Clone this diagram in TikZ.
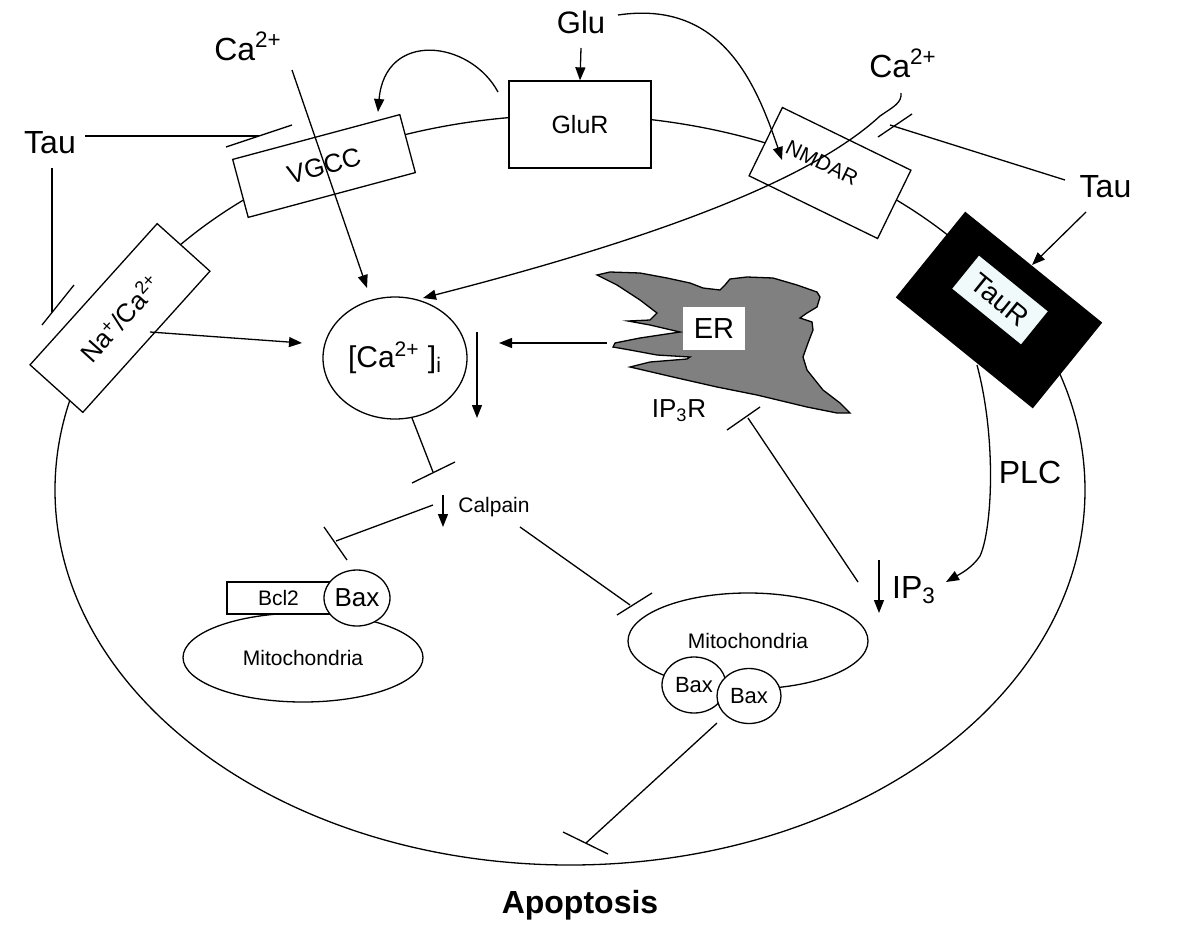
\documentclass[tikz,border=0pt]{standalone}
\usepackage{fontspec}
\setmainfont{Liberation Sans}
\usetikzlibrary{arrows.meta,shapes.geometric}
\definecolor{taurfill}{RGB}{240,250,250}
\definecolor{ergray}{RGB}{128,128,128}
\begin{document}
\begin{tikzpicture}[x=0.5pt,y=-0.5pt,line width=0.65pt,
  arr/.style={-{Triangle[length=6.5pt,width=5pt]}},
  fs/.style={font=\fontsize{#1}{#1}\selectfont},
  box/.style={draw,fill=white,inner sep=0pt},
  oval/.style={ellipse,draw,fill=white,inner sep=0pt},
  lbl/.style={inner sep=0pt,anchor=base}]
\useasboundingbox (0,0) rectangle (1200,932);
% cell membrane
\node[ellipse,draw,inner sep=0pt,minimum width=515pt,minimum height=375pt] (cell) at (570,490) {};
% channels / receptors
\node[box,minimum width=86.5pt,minimum height=30pt,rotate=15,fs=13] (vgcc) at (324,166) {VGCC};
\node[box,minimum width=71pt,minimum height=43.5pt,fs=12.5] (glur) at (580,124.5) {GluR};
\node[box,minimum width=71.5pt,minimum height=38pt,rotate=-26] (nmdar) at (830,173) {};
\node[inner sep=0pt,rotate=-26,fs=10.5] (nmdarlbl) at (822,163) {NMDAR};
\node[box,minimum width=95pt,minimum height=35.5pt,rotate=48,fs=13] (naca) at (120,318) {Na\textsuperscript{+}/Ca\textsuperscript{2+}};
\node[fill=black,draw=black,inner sep=0pt,minimum width=87.5pt,minimum height=54.5pt,rotate=-39] (taur) at (999,310) {};
\node[draw=black,fill=taurfill,inner sep=0pt,minimum width=45pt,minimum height=22pt,rotate=-39,fs=14] (taurin) at (1000,300) {TauR};
% ER
\filldraw[fill=ergray,draw=black] (597,275) -- (610,272) -- (640,273) -- (667,278) -- (690,283) -- (703,288) -- (720,290) -- (725,285) -- (730,279) -- (747,277) -- (773,278) -- (797,285) -- (817,292) -- (820,297) -- (817,307) -- (807,313) -- (800,318) -- (812,322) -- (813,330) -- (808,343) -- (803,357) -- (807,370) -- (823,390) -- (840,403) -- (850,413) -- (837,413) -- (807,407) -- (757,395) -- (717,387) -- (673,377) -- (643,370) -- (630,367) -- (650,362) -- (687,359) -- (690,357) -- (657,355) -- (630,350) -- (613,347) -- (615,343) -- (640,338) -- (680,332) -- (650,325) -- (628,321) -- (650,320) -- (657,313) -- (640,300) -- (617,285) -- cycle;
\node[fill=white,inner sep=0pt,minimum width=31pt,minimum height=21.5pt,fs=14.5] (er) at (714,328.5) {ER};
% calcium pool
\node[oval,minimum width=72pt,minimum height=61pt,fs=15] (cai) at (395,358) {[Ca\textsuperscript{2+} ]\textsubscript{i}};
% mitochondria
\node[oval,minimum width=120pt,minimum height=44.5pt,fs=10.5] (mito1) at (303,657.5) {Mitochondria};
\node[box,minimum width=51.5pt,minimum height=16pt,fs=10.5] (bcl2) at (278.5,598) {Bcl2};
\node[oval,minimum width=33pt,minimum height=28pt,fs=13] (bax1) at (357,598) {Bax};
\node[oval,minimum width=120pt,minimum height=48pt,fs=10.5] (mito2) at (748,641) {Mitochondria};
\node[oval,minimum width=32pt,minimum height=28pt,fs=11] (bax2) at (694,685) {Bax};
\node[oval,minimum width=32pt,minimum height=27.5pt,fs=11] (bax3) at (749,696) {Bax};
% labels
\node[lbl,fs=16] (ca1) at (248,60) {Ca\textsuperscript{2+}};
\node[lbl,fs=16] (tau1) at (50,153) {Tau};
\node[lbl,fs=15.5] (glu) at (581,33) {Glu};
\node[lbl,fs=16] (ca2) at (903,77) {Ca\textsuperscript{2+}};
\node[lbl,fs=16] (tau2) at (1105.5,197) {Tau};
\node[lbl,fs=10.5] (calpain) at (494,512) {Calpain};
\node[lbl,fs=16] (plc) at (1030,483) {PLC};
\node[lbl,fs=16] (ip3) at (914,598) {IP\textsubscript{3}};
\node[lbl,fs=13] (ip3r) at (679,417) {IP\textsubscript{3}R};
\node[lbl,font=\fontsize{16}{16}\selectfont\bfseries] (apop) at (580,913) {Apoptosis};
% coordinates for connector ends
\coordinate (gluA) at (581,48);
\coordinate (gluB) at (618,15);
\coordinate (nmdarT) at (782,160);
\coordinate (glurL) at (498,92);
\coordinate (vgccT) at (378,112);
\coordinate (ca1s) at (292,70);
\coordinate (caiTL) at (367,288);
\coordinate (tau1e) at (85,136);
\coordinate (tau1b) at (259,136);
\coordinate (tau1d) at (52,168);
\coordinate (tau1c) at (52,312);
\coordinate (nacaO) at (150,332);
\coordinate (caiL) at (302,343);
\coordinate (ca2s) at (901,93);
\coordinate (caiTR) at (423,298);
\coordinate (tau2e) at (1065,180);
\coordinate (tau2b) at (890,125);
\coordinate (tau2a) at (1086,212);
\coordinate (taurT) at (1032,265);
\coordinate (taurB) at (977,365);
\coordinate (ip3T) at (946,582);
\coordinate (erL) at (607,343);
\coordinate (caiR) at (499,343);
\coordinate (dnA) at (477,332);
\coordinate (dnB) at (477,418);
\coordinate (caiB) at (412,418);
\coordinate (calT) at (433,472);
\coordinate (calA) at (443,495);
\coordinate (calB) at (443,527);
\coordinate (calL) at (433,505);
\coordinate (bax1T) at (336,541);
\coordinate (calR) at (520,527);
\coordinate (mito2T) at (630,605);
\coordinate (ip3s) at (858,582);
\coordinate (ip3rB) at (748,418);
\coordinate (ip3A) at (879,560);
\coordinate (ip3B) at (879,613);
\coordinate (mito2B) at (717,723);
\coordinate (apopT) at (586,843);
% connectors
\draw[arr] (gluA) -- (glur.north);
\draw[arr] (gluB) .. controls (720,0) and (755,80) .. (nmdarT);
\draw[arr] (glurL) .. controls (470,40) and (385,30) .. (vgccT);
\draw[arr] (ca1s) -- (caiTL);
\draw (tau1e) -- (tau1b);
\draw (226,147) -- (292,125);
\draw (tau1d) -- (tau1c);
\draw (42,325) -- (74,285);
\draw[arr] (nacaO) -- (caiL);
\draw[arr] (ca2s) .. controls (902,103) and (893,107) .. (880,116) .. controls (830,162) and (720,222) .. (caiTR);
\draw (tau2e) -- (tau2b);
\draw (878,137) -- (912,114);
\draw[arr] (tau2a) -- (taurT);
\draw[arr] (taurB) .. controls (997,440) and (992,530) .. (980,556) .. controls (972,568) and (960,574) .. (ip3T);
\draw[arr] (erL) -- (caiR);
\draw[arr] (dnA) -- (dnB);
\draw (caiB) -- (calT);
\draw (412,483) -- (455,462);
\draw[arr] (calA) -- (calB);
\draw (calL) -- (bax1T);
\draw (324,527) -- (347,560);
\draw (calR) -- (mito2T);
\draw (617,615) -- (652,593);
\draw (ip3s) -- (ip3rB);
\draw (727,430) -- (760,407);
\draw[arr] (ip3A) -- (ip3B);
\draw (mito2B) -- (apopT);
\draw (563,832) -- (608,854);
\end{tikzpicture}
\end{document}
